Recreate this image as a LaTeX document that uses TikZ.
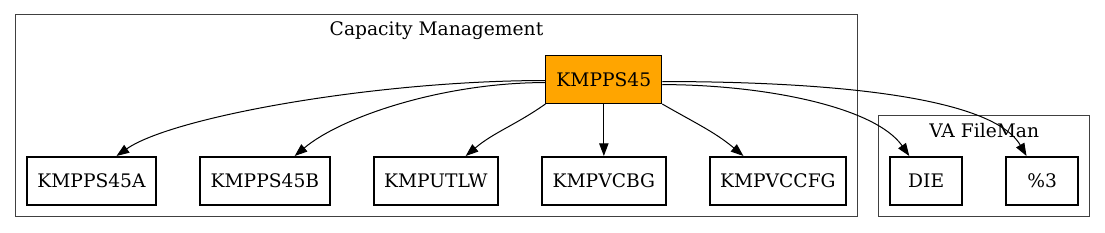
\documentclass[tikz,border=0pt]{standalone}
\usepackage{fontspec}
\setmainfont{DejaVu Serif}
\usetikzlibrary{positioning, arrows.meta, fit, backgrounds}
\definecolor{gvorange}{HTML}{FFA500}

\begin{document}
\begin{tikzpicture}[
    x=0.75pt, y=0.75pt,
    box/.style={
      draw, rectangle, line width=1.5pt,
      minimum height=36pt, minimum width=54pt,
      inner xsep=7.9pt, font=\fontsize{14pt}{17pt}\selectfont
    },
    mainbox/.style={box, fill=gvorange, line width=0.75pt},
    zone/.style={
      draw=black!75, line width=0.75pt, inner sep=8pt
    },
    ztitle/.style={anchor=north, yshift=-2.5pt,
      font=\fontsize{14pt}{17pt}\selectfont},
    arrow/.style={-{Triangle[length=9.5pt, width=7pt]}, line width=0.75pt}
  ]
    \useasboundingbox (0,0) rectangle (1105,232);

    % -- routine row --
    \node[box] (ps45a) at (91.5,51) {KMPPS45A};
    \node[box, right=31.5pt of ps45a] (ps45b) {KMPPS45B};
    \node[box, right=31.5pt of ps45b] (putlw) {KMPUTLW};
    \node[box, right=31.5pt of putlw] (vcbg) {KMPVCBG};
    \node[box, right=31.5pt of vcbg] (vccfg) {KMPVCCFG};
    \node[box, right=31.5pt of vccfg] (die) {DIE};
    \node[box, right=31.5pt of die] (pct) {\%3};

    \node[mainbox, above=39pt of vcbg] (ps45) {KMPPS45};

    % -- packages --
    \coordinate[above=22.5pt of ps45] (captop);
    \coordinate[above=22.5pt of die] (fmtop);
    \begin{scope}[on background layer]
      \node[zone, fit=(ps45a)(vccfg)(captop),
            label={[ztitle]north:Capacity Management}] (capzone) {};
      \node[zone, fit=(die)(pct)(fmtop),
            label={[ztitle]north:VA FileMan}] (fmzone) {};
    \end{scope}

    % -- calls --
    \draw[arrow] (ps45.181) to[out=180, in=35, in looseness=0.4] (ps45a.45);
    \draw[arrow] (ps45.183) to[out=180, in=40, in looseness=0.6] (ps45b.40);
    \draw[arrow] (ps45.south west) to[out=215, in=40] (putlw.40);
    \draw[arrow] (ps45) -- (vcbg);
    \draw[arrow] (ps45.south east) to[out=-30, in=140] (vccfg.144);
    \draw[arrow] (ps45.-5) to[out=0, in=125, in looseness=0.6] (die.124);
    \draw[arrow] (ps45.-2) to[out=0, in=120, in looseness=0.5] (pct.122);

\end{tikzpicture}
\end{document}
